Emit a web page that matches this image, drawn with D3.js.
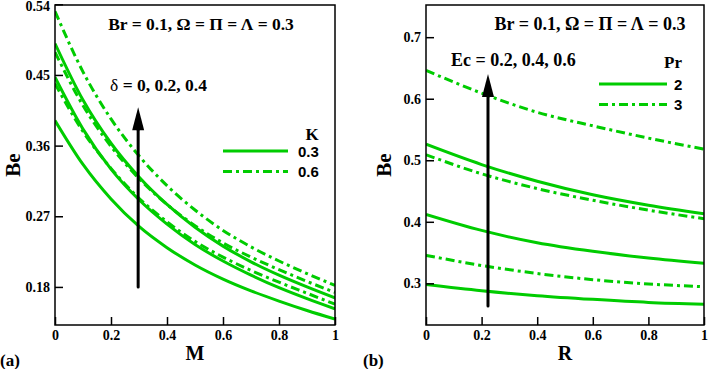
<!DOCTYPE html>
<html>
<head>
<meta charset="utf-8">
<script src="https://cdn.jsdelivr.net/npm/d3@7"></script>
<style>
  body { margin: 0; background: #fff; }
  svg text { font-family: "Liberation Serif", "Times New Roman", serif; font-weight: bold; fill: #000; }
</style>
</head>
<body>
<svg id="chart" width="709" height="369"></svg>
<script>
// ---- data, panel (a): Be vs M ----
var mValues = [0, 0.1, 0.2, 0.3, 0.4, 0.5, 0.6, 0.7, 0.8, 0.9, 1];
var beK03_d0  = [0.392, 0.336, 0.292, 0.257, 0.230, 0.208, 0.190, 0.175, 0.162, 0.150, 0.139];
var beK03_d02 = [0.447, 0.381, 0.330, 0.291, 0.260, 0.234, 0.213, 0.195, 0.179, 0.165, 0.152];
var beK03_d04 = [0.490, 0.418, 0.363, 0.320, 0.285, 0.256, 0.232, 0.212, 0.195, 0.180, 0.166];
var beK06_d0  = [0.439, 0.378, 0.331, 0.293, 0.263, 0.238, 0.218, 0.201, 0.186, 0.172, 0.158];
var beK06_d02 = [0.479, 0.411, 0.359, 0.318, 0.285, 0.258, 0.236, 0.218, 0.202, 0.187, 0.173];
var beK06_d04 = [0.531, 0.454, 0.394, 0.347, 0.309, 0.278, 0.252, 0.231, 0.213, 0.197, 0.182];
var yTicksA = [0.18, 0.27, 0.36, 0.45, 0.54];

// ---- data, panel (b): Be vs R ----
var rValues = [0, 0.2, 0.4, 0.6, 0.8, 1];
var bePr2_ec02 = [0.298, 0.288, 0.280, 0.274, 0.269, 0.266];
var bePr2_ec04 = [0.412, 0.386, 0.366, 0.352, 0.341, 0.3325];
var bePr2_ec06 = [0.526, 0.493, 0.466, 0.444, 0.427, 0.413];
var bePr3_ec02 = [0.3455, 0.329, 0.316, 0.306, 0.299, 0.2945];
var bePr3_ec04 = [0.509, 0.478, 0.454, 0.435, 0.419, 0.405];
var bePr3_ec06 = [0.646, 0.609, 0.578, 0.556, 0.536, 0.518];
var yTicksB = [0.3, 0.4, 0.5, 0.6, 0.7];

var xTicks = [0, 0.2, 0.4, 0.6, 0.8, 1];

var green = "#00cc00";
var dashDot = "9,4,3,4";

var svg = d3.select("#chart");

function drawPanel(opt) {
    var x = d3.scaleLinear().domain([0, 1]).range([opt.left, opt.right]);
    var y = d3.scaleLinear().domain(opt.yDomain).range([opt.bottom, opt.top]);
    var g = svg.append("g");

    var clipId = "clip-" + opt.tag;
    g.append("clipPath").attr("id", clipId).append("rect")
        .attr("x", opt.left).attr("y", opt.top)
        .attr("width", opt.right - opt.left).attr("height", opt.bottom - opt.top);

    // curves
    var line = d3.line()
        .x(function (d) { return x(d[0]); })
        .y(function (d) { return y(d[1]); })
        .curve(d3.curveMonotoneX);
    var lines = g.append("g").attr("clip-path", "url(#" + clipId + ")");
    opt.series.forEach(function (s) {
        lines.append("path")
            .datum(opt.xs.map(function (v, i) { return [v, s.values[i]]; }))
            .attr("d", line)
            .attr("fill", "none")
            .attr("stroke", green)
            .attr("stroke-width", 3)
            .attr("stroke-dasharray", s.dashed ? dashDot : null);
    });

    // axes (ticks inward)
    var xAxis = d3.axisBottom(x).tickValues(xTicks)
        .tickFormat(function (d) { return d === 0 || d === 1 ? d3.format("d")(d) : d3.format(".1f")(d); })
        .tickSizeInner(-8).tickSizeOuter(0).tickPadding(5);
    var xg = g.append("g").attr("transform", "translate(0," + opt.bottom + ")").call(xAxis);
    var yAxis = d3.axisLeft(y).tickValues(opt.yTicks).tickFormat(opt.yFormat)
        .tickSizeInner(-8).tickSizeOuter(0).tickPadding(5);
    var yg = g.append("g").attr("transform", "translate(" + opt.left + ",0)").call(yAxis);
    [xg, yg].forEach(function (a) {
        a.select(".domain").remove();
        a.selectAll(".tick line").attr("stroke", "#000").attr("stroke-width", 1.5);
        a.selectAll(".tick text").style("font-size", "14px")
            .style("font-family", "'Liberation Serif', serif").style("font-weight", "bold");
    });
    // keep the top tick label inside the picture
    yg.selectAll(".tick text").filter(function (d) { return y(d) < 10; }).attr("dy", "0.42em");

    g.append("rect")
        .attr("x", opt.left).attr("y", opt.top)
        .attr("width", opt.right - opt.left).attr("height", opt.bottom - opt.top)
        .attr("fill", "none").attr("stroke", "#000").attr("stroke-width", 1.5);

    // axis titles
    g.append("text").attr("x", (opt.left + opt.right) / 2).attr("y", 360)
        .attr("text-anchor", "middle").style("font-size", "20px").text(opt.xLabel);
    g.append("text")
        .attr("transform", "translate(" + (opt.left - 35) + "," + ((opt.top + opt.bottom) / 2) + ") rotate(-90)")
        .attr("text-anchor", "middle").style("font-size", "21px").text("Be");
    g.append("text").attr("x", opt.left - opt.tagOffset).attr("y", 366)
        .style("font-size", "17px").text("(" + opt.tag + ")");

    // parameter note
    g.append("text").attr("x", opt.noteX).attr("y", 30)
        .attr("text-anchor", "middle").style("font-size", opt.noteSize).text("Br = 0.1, Ω = Π = Λ = 0.3");

    // arrow
    var ax = x(opt.arrow.at);
    var y0 = y(opt.arrow.from), y1 = y(opt.arrow.to), yb = y1 + 23;
    g.append("line").attr("x1", ax).attr("x2", ax).attr("y1", y0).attr("y2", yb)
        .attr("stroke", "#000").attr("stroke-width", 3).attr("stroke-linecap", "round");
    g.append("path")
        .attr("d", "M" + (ax - 6) + "," + yb + "L" + ax + "," + y1 + "L" + (ax + 6) + "," + yb + "Z")
        .attr("fill", "#000");
    g.append("text").attr("x", opt.arrow.labelX).attr("y", opt.arrow.labelY)
        .style("font-size", opt.arrow.size).html(opt.arrow.label);

    // legend
    var lg = g.append("g");
    lg.append("text").attr("x", opt.legend.titleX).attr("y", opt.legend.titleY)
        .attr("text-anchor", "middle").style("font-size", "17px").text(opt.legend.title);
    opt.legend.items.forEach(function (it, i) {
        var ly = opt.legend.y + i * 20.5;
        lg.append("line").attr("x1", opt.legend.x1).attr("x2", opt.legend.x2)
            .attr("y1", ly).attr("y2", ly)
            .attr("stroke", green).attr("stroke-width", 3)
            .attr("stroke-dasharray", it.dashed ? dashDot : null);
        lg.append("text").attr("x", opt.legend.labelX).attr("y", ly + 5.5)
            .style("font-family", "'Liberation Sans', Arial, sans-serif")
            .style("font-size", "15px").text(it.label);
    });
}

drawPanel({
    tag: "a", tagOffset: 55,
    left: 55, right: 335, top: 5, bottom: 325,
    yDomain: [0.1315, 0.5391], yTicks: yTicksA, yFormat: d3.format(".2f"),
    xs: mValues, xLabel: "M",
    series: [
        { values: beK03_d0 }, { values: beK03_d02 }, { values: beK03_d04 },
        { values: beK06_d0, dashed: true }, { values: beK06_d02, dashed: true }, { values: beK06_d04, dashed: true }
    ],
    noteX: 201, noteSize: "17.5px",
    arrow: { at: 0.297, from: 0.18, to: 0.409, size: "17.5px",
        label: "<tspan style='font-weight:normal'>δ</tspan> = 0, 0.2, 0.4", labelX: 110, labelY: 91 },
    legend: { title: "K", titleX: 312, titleY: 140, y: 151, x1: 223, x2: 288, labelX: 298,
        items: [{ label: "0.3" }, { label: "0.6", dashed: true }] }
});

drawPanel({
    tag: "b", tagOffset: 63,
    left: 426, right: 704, top: 5, bottom: 325,
    yDomain: [0.2323, 0.7523], yTicks: yTicksB, yFormat: d3.format(".1f"),
    xs: rValues, xLabel: "R",
    series: [
        { values: bePr2_ec02 }, { values: bePr2_ec04 }, { values: bePr2_ec06 },
        { values: bePr3_ec02, dashed: true }, { values: bePr3_ec04, dashed: true }, { values: bePr3_ec06, dashed: true }
    ],
    noteX: 590, noteSize: "18px",
    arrow: { at: 0.223, from: 0.263, to: 0.64, size: "18px",
        label: "Ec = 0.2, 0.4, 0.6", labelX: 451, labelY: 66 },
    legend: { title: "Pr", titleX: 673, titleY: 68, y: 84, x1: 599, x2: 667, labelX: 674,
        items: [{ label: "2" }, { label: "3", dashed: true }] }
});
</script>
</body>
</html>
